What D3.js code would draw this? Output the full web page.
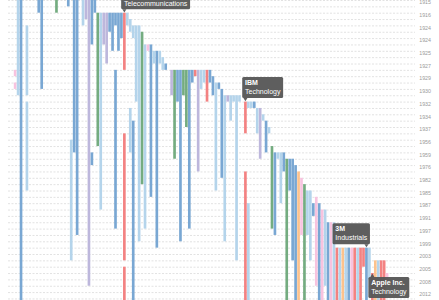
<!DOCTYPE html>
<html><head><meta charset="utf-8">
<script src="https://cdn.jsdelivr.net/npm/d3@7"></script>
<style>html,body{margin:0;padding:0;background:#fff;overflow:hidden}svg{display:block}</style>
</head><body><svg id="c" width="439" height="300"></svg>
<script>
// Row labels (every other change-event row)
const rowLabels = ["1915","1916","1924","1924","1925","1927","1929","1930","1932","1934","1937","1956","1959","1976","1982","1985","1987","1991","1997","1999","2003","2005","2008","2012"];
const sectors = ["Ind","Mat","Con","Oil","Tech","Tel","Hea","Fin"];
const sectorNames = ["Industrials","Basic Materials","Consumer Goods","Oil & Gas","Technology","Telecommunications","Health Care","Financials"];
const columnCount = 127;
// [column, first row, last row, sector]
const tenures = [
[0,11,12,"Hea"],[0,13,14,"Hea"],[1,-1,15,"Mat"],[2,-1,50,"Ind"],[4,4,15,"Mat"],[4,16,30,"Mat"],
[8,-1,2,"Ind"],[9,-1,14,"Ind"],[14,-1,2,"Con"],[18,-1,1,"Ind"],[19,22,41,"Mat"],[20,-1,24,"Ind"],
[21,-1,37,"Ind"],[23,-1,4,"Mat"],[24,-1,3,"Oil"],[25,-1,45,"Oil"],[26,-1,7,"Ind"],[26,24,26,"Ind"],
[27,-1,2,"Ind"],[28,2,23,"Con"],[29,2,33,"Mat"],[30,2,7,"Oil"],[31,2,10,"Oil"],[32,2,5,"Ind"],
[33,2,8,"Ind"],[34,2,4,"Ind"],[34,11,36,"Ind"],[35,2,8,"Ind"],[36,2,6,"Ind"],
[37,2,11,"Tel"],[37,21,41,"Tel"],[37,42,50,"Tel"],[38,2,4,"Mat"],[39,3,5,"Mat"],[39,17,24,"Mat"],
[40,4,6,"Mat"],[40,19,50,"Ind"],[41,4,16,"Mat"],[42,4,38,"Mat"],[43,5,29,"Con"],[44,7,36,"Mat"],
[45,7,8,"Hea"],[46,7,31,"Ind"],[47,8,10,"Mat"],[48,8,39,"Ind"],[49,8,10,"Mat"],[50,9,11,"Mat"],
[51,10,11,"Ind"],[53,11,15,"Oil"],[54,11,25,"Con"],[55,11,16,"Ind"],[56,11,38,"Ind"],[57,11,15,"Con"],
[58,11,20,"Con"],[59,11,36,"Ind"],[60,11,13,"Ind"],[61,11,12,"Tech"],[62,11,27,"Oil"],[63,11,14,"Mat"],
[64,11,13,"Mat"],[65,11,16,"Tech"],[66,11,13,"Ind"],[67,12,15,"Ind"],[68,13,30,"Mat"],[69,13,14,"Ind"],
[70,14,28,"Ind"],[71,15,38,"Mat"],[72,15,16,"Oil"],[73,15,19,"Mat"],[74,15,16,"Mat"],[75,15,41,"Mat"],
[76,15,16,"Mat"],[78,16,21,"Tech"],[78,27,50,"Tech"],[79,16,17,"Mat"],[79,32,50,"Mat"],[80,16,17,"Mat"],
[81,16,17,"Ind"],[82,17,21,"Mat"],[83,17,25,"Oil"],[84,18,19,"Mat"],[85,19,24,"Ind"],[86,20,21,"Mat"],
[87,23,36,"Con"],[88,24,37,"Ind"],[89,24,25,"Mat"],[90,24,32,"Mat"],[91,24,27,"Ind"],[92,25,50,"Con"],
[93,25,30,"Ind"],[94,25,41,"Ind"],[95,26,50,"Ind"],[96,27,50,"Fin"],[97,28,37,"Hea"],[98,29,50,"Con"],
[99,30,37,"Mat"],[100,30,41,"Mat"],[101,32,34,"Ind"],[102,31,45,"Hea"],[103,32,50,"Ind"],[104,33,50,"Hea"],
[105,33,45,"Mat"],[106,35,50,"Ind"],[107,35,50,"Hea"],[108,35,50,"Mat"],[109,39,50,"Tech"],[110,39,50,"Mat"],
[111,39,50,"Fin"],[112,39,50,"Mat"],[113,39,50,"Ind"],[114,39,50,"Hea"],[115,39,50,"Tech"],[116,39,50,"Mat"],
[117,39,50,"Tech"],[118,39,42,"Tech"],[119,39,50,"Ind"],[120,39,44,"Mat"],[121,43,50,"Tech"],[122,41,50,"Fin"],
[123,41,50,"Mat"],[124,41,50,"Tech"],[125,41,50,"Tech"],[126,43,45,"Hea"]
];
const annotations = [
  {company:"AT&T", sector:"Telecommunications", col:37, row:2, pos:"bl"},
  {company:"IBM", sector:"Technology", col:78, row:16, pos:"bl"},
  {company:"3M", sector:"Industrials", col:119, row:39, pos:"br"},
  {company:"Apple Inc.", sector:"Technology", col:121, row:43, pos:"tl"}
];

const svg = d3.select("#c");
const FONT = "'Liberation Sans', Arial, Helvetica, sans-serif";
const x = d3.scaleBand().domain(d3.range(columnCount)).range([13.8, 13.8 + columnCount*2.95]).paddingInner(0.1);
const y = d3.scaleLinear().domain([0, 47]).range([0, 47*6.35]);
const color = d3.scaleOrdinal().domain(sectors)
  .range(["#79a7d3","#b4d4eb","#74ac80","#bdb7dc","#f38282","#f38282","#f8c3df","#fdc28c"]);

// gridlines
svg.append("g").selectAll("line").data(d3.range(0, 49)).join("line")
  .attr("x1", 8).attr("x2", 415).attr("y1", d => y(d)+0.5).attr("y2", d => y(d)+0.5)
  .attr("stroke", "#e2e2e2").attr("stroke-width", 1).attr("stroke-dasharray", "2,1.5");

// row labels
svg.append("g").selectAll("text").data(rowLabels).join("text")
  .attr("x", 431).attr("y", (d,i) => y(i*2) + 4.2)
  .attr("text-anchor", "end").attr("font-family", FONT).attr("font-size", 5.3)
  .attr("fill", "#9a9a9a").text(d => d);

// bars
svg.append("g").selectAll("rect").data(tenures).join("rect")
  .attr("x", d => x(d[0])).attr("width", x.bandwidth())
  .attr("y", d => y(d[1])).attr("height", d => y(d[2]) - y(d[1]))
  .attr("fill", d => color(d[3]));

// annotations
annotations.forEach(a => {
  const cx = x(a.col) + x.bandwidth()/2, cy = y(a.row);
  const g = svg.append("g");
  const box = g.append("rect").attr("rx", 1.5).attr("fill", "#555").attr("opacity", 0.95);
  const t1 = g.append("text").attr("font-family", FONT).attr("font-size", 7).attr("font-weight", "bold").attr("fill", "#fff").text(a.company);
  const t2 = g.append("text").attr("font-family", FONT).attr("font-size", 7).attr("fill", "#fff").text(a.sector);
  const w = Math.max(t1.node().getComputedTextLength(), t2.node().getComputedTextLength()) + 5.5;
  const h = 21;
  let bx, by, tri;
  if (a.pos === "bl") { bx = cx - 3.2; by = cy - 3.5 - h; tri = [[cx-2,by+h],[cx+2,by+h],[cx,cy-0.3]]; }
  else if (a.pos === "br") { bx = cx + 3.5 - w; by = cy - 3.5 - h; tri = [[cx-2,by+h],[cx+2,by+h],[cx,cy-0.3]]; }
  else { bx = cx - 4; by = cy + 4; tri = [[cx-2,by],[cx+2,by],[cx,cy+0.5]]; }
  box.attr("x", bx).attr("y", by).attr("width", w).attr("height", h);
  g.append("path").attr("d", d3.line()(tri) + "Z").attr("fill", "#555").attr("opacity", 0.95);
  t1.attr("x", bx + 2.8).attr("y", by + 8.3);
  t2.attr("x", bx + 2.8).attr("y", by + 17.3);
});
</script></body></html>
